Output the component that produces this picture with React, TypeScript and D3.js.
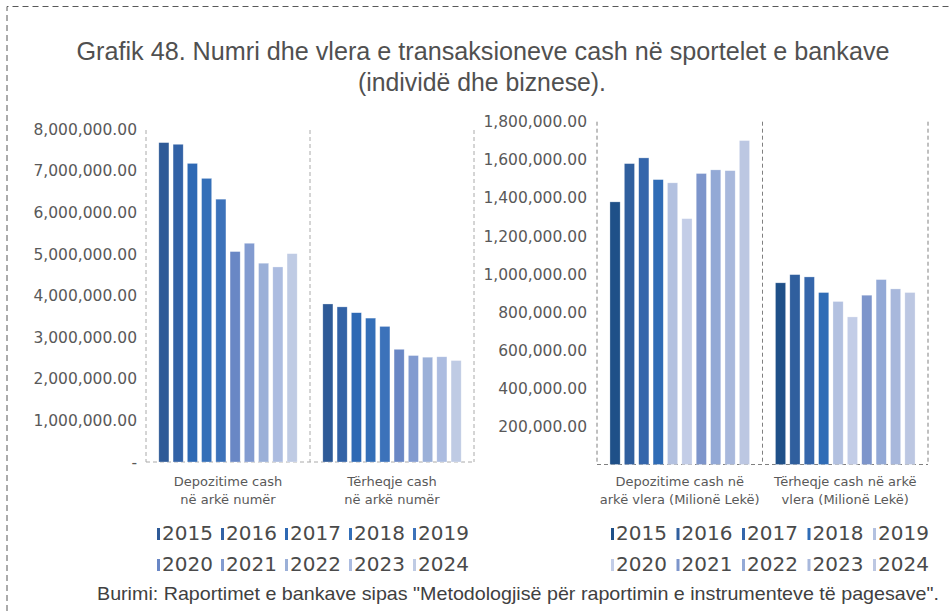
import React, { useEffect, useRef } from 'react';
import * as d3 from 'd3';

// years shown in both panels
const years = ['2015', '2016', '2017', '2018', '2019', '2020', '2021', '2022', '2023', '2024'];

// left panel: number of cash transactions
const countCategories = [
  ['Depozitime cash', 'në arkë numër'],
  ['Tërheqje cash', 'në arkë numër'],
];
const countDeposits = [7680000, 7640000, 7180000, 6820000, 6320000, 5060000, 5260000, 4780000, 4690000, 5010000];
const countWithdrawals = [3800000, 3730000, 3590000, 3460000, 3260000, 2710000, 2560000, 2520000, 2530000, 2440000];
const countTicks = [0, 1000000, 2000000, 3000000, 4000000, 5000000, 6000000, 7000000, 8000000];
const countColors = ['#2e5a97', '#3262a6', '#2e69b4', '#346fb8', '#3c72ba', '#6987c5', '#829bd0', '#9bb0d8', '#acbce0', '#bfcbe4'];

// right panel: value of cash transactions (million ALL)
const valueCategories = [
  ['Depozitime cash në', 'arkë vlera (Milionë Lekë)'],
  ['Tërheqje cash në arkë', 'vlera (Milionë Lekë)'],
];
const valueDeposits = [1379000, 1580000, 1610000, 1496000, 1479000, 1291000, 1528000, 1547000, 1543000, 1701000];
const valueWithdrawals = [954000, 997000, 985000, 903000, 856000, 775000, 889000, 971000, 922000, 903000];
const valueTicks = [200000, 400000, 600000, 800000, 1000000, 1200000, 1400000, 1600000, 1800000];
const valueColors = ['#1f5088', '#305f9e', '#3566ab', '#2f6cb6', '#b3c1e0', '#c3cde7', '#7d95cb', '#93a9d6', '#a8b8dc', '#bcc7e2'];

const FONT = '"DejaVu Sans", sans-serif';
const TEXT = '#595959';

type Panel = {
  categories: string[][];
  series: number[][];
  ticks: number[];
  colors: string[];
  max: number;
  left: number;
  right: number;
  base: number;
  top: number;
  lineTop: number;
  lineColor: string;
  labelX: number;
  legendX: number;
  legendStep: number;
};

const drawPanel = (svg: d3.Selection<SVGSVGElement, unknown, null, undefined>, p: Panel) => {
  const g = svg.append('g');
  const y = d3.scaleLinear().domain([0, p.max]).range([p.base, p.top]);
  const x0 = d3.scaleBand<number>().domain([0, 1]).range([p.left, p.right]);
  const x1 = d3.scaleBand<string>().domain(years).range([0, x0.bandwidth()]).paddingInner(0.29).paddingOuter(0.9);
  const fmt = d3.format(',.2f');

  // dashed plot frame (verticals + baseline)
  const verticals = [p.left, x0(1) as number, p.right];
  g.selectAll('line.v')
    .data(verticals)
    .join('line')
    .attr('x1', d => d)
    .attr('x2', d => d)
    .attr('y1', p.lineTop)
    .attr('y2', p.base)
    .attr('stroke', p.lineColor)
    .attr('stroke-width', 1)
    .attr('stroke-dasharray', '4,3');
  g.append('line')
    .attr('x1', p.left)
    .attr('x2', p.right)
    .attr('y1', p.base)
    .attr('y2', p.base)
    .attr('stroke', p.lineColor)
    .attr('stroke-dasharray', '4,3');

  // y tick labels
  g.selectAll('text.tick')
    .data(p.ticks)
    .join('text')
    .attr('x', p.labelX)
    .attr('y', d => y(d))
    .attr('dy', '0.36em')
    .attr('text-anchor', 'end')
    .attr('font-family', FONT)
    .attr('font-size', 15.5)
    .attr('fill', TEXT)
    .text(d => (d === 0 ? '-' : fmt(d)));

  // bars
  p.series.forEach((vals, gi) => {
    g.append('g')
      .attr('transform', `translate(${x0(gi)},0)`)
      .selectAll('rect')
      .data(vals)
      .join('rect')
      .attr('x', (_, i) => x1(years[i]) as number)
      .attr('width', x1.bandwidth())
      .attr('y', d => y(d))
      .attr('height', d => p.base - y(d))
      .attr('fill', (_, i) => p.colors[i])
      .attr('stroke', '#ffffff')
      .attr('stroke-opacity', 0.5)
      .attr('stroke-width', 0.6);
  });

  // category labels
  p.categories.forEach((lines, gi) => {
    const cx = (x0(gi) as number) + x0.bandwidth() / 2;
    lines.forEach((line, li) => {
      g.append('text')
        .attr('x', cx)
        .attr('y', 486 + li * 17.5)
        .attr('text-anchor', 'middle')
        .attr('font-family', FONT)
        .attr('font-size', 13)
        .attr('fill', TEXT)
        .text(line);
    });
  });

  // legend, two rows of five
  const legend = g.selectAll('g.legend')
    .data(years)
    .join('g')
    .attr('transform', (_, i) => `translate(${p.legendX + (i % 5) * p.legendStep},${i < 5 ? 540 : 571})`);
  legend.append('rect')
    .attr('x', 0)
    .attr('y', -12)
    .attr('width', 3)
    .attr('height', 12)
    .attr('fill', (_, i) => p.colors[i]);
  legend.append('text')
    .attr('x', 5)
    .attr('y', 0)
    .attr('font-family', FONT)
    .attr('font-size', 20)
    .attr('fill', '#4a4a4a')
    .text(d => d);
};

const App: React.FC = () => {
  const ref = useRef<SVGSVGElement | null>(null);

  useEffect(() => {
    if (!ref.current) return;
    const svg = d3.select(ref.current);
    svg.selectAll('*').remove();

    // outer dashed frame (only top and left visible)
    svg.append('path')
      .attr('d', 'M7,611 V6.5 H949')
      .attr('fill', 'none')
      .attr('stroke', '#595959')
      .attr('stroke-width', 1)
      .attr('stroke-dasharray', '6,4');

    const title = svg.append('g')
      .attr('font-family', '"Liberation Sans", sans-serif')
      .attr('fill', '#505050')
      .attr('text-anchor', 'middle');
    title.append('text')
      .attr('x', 483)
      .attr('y', 60)
      .attr('font-size', 25)
      .attr('textLength', 813)
      .attr('lengthAdjust', 'spacingAndGlyphs')
      .text('Grafik 48. Numri dhe vlera e transaksioneve cash në sportelet e bankave');
    title.append('text')
      .attr('x', 482)
      .attr('y', 91)
      .attr('font-size', 25)
      .attr('textLength', 248)
      .attr('lengthAdjust', 'spacingAndGlyphs')
      .text('(individë dhe biznese).');

    drawPanel(svg, {
      categories: countCategories,
      series: [countDeposits, countWithdrawals],
      ticks: countTicks,
      colors: countColors,
      max: 8000000,
      left: 146,
      right: 474,
      base: 462,
      top: 129.3,
      lineTop: 130,
      lineColor: '#aaaaaa',
      labelX: 137,
      legendX: 157,
      legendStep: 64,
    });

    drawPanel(svg, {
      categories: valueCategories,
      series: [valueDeposits, valueWithdrawals],
      ticks: valueTicks,
      colors: valueColors,
      max: 1800000,
      left: 597,
      right: 928,
      base: 464.5,
      top: 121.7,
      lineTop: 121.7,
      lineColor: '#808080',
      labelX: 587,
      legendX: 611,
      legendStep: 65.5,
    });

    svg.append('text')
      .attr('x', 97)
      .attr('y', 600)
      .attr('font-family', '"Liberation Sans", sans-serif')
      .attr('font-size', 18.5)
      .attr('fill', '#404040')
      .attr('textLength', 842)
      .attr('lengthAdjust', 'spacingAndGlyphs')
      .text('Burimi: Raportimet e bankave sipas "Metodologjisë për raportimin e instrumenteve të pagesave".');
  }, []);

  return (
    <svg
      ref={ref}
      width={949}
      height={611}
      style={{ position: 'absolute', left: 0, top: 0, background: '#ffffff' }}
    />
  );
};

export default App;
